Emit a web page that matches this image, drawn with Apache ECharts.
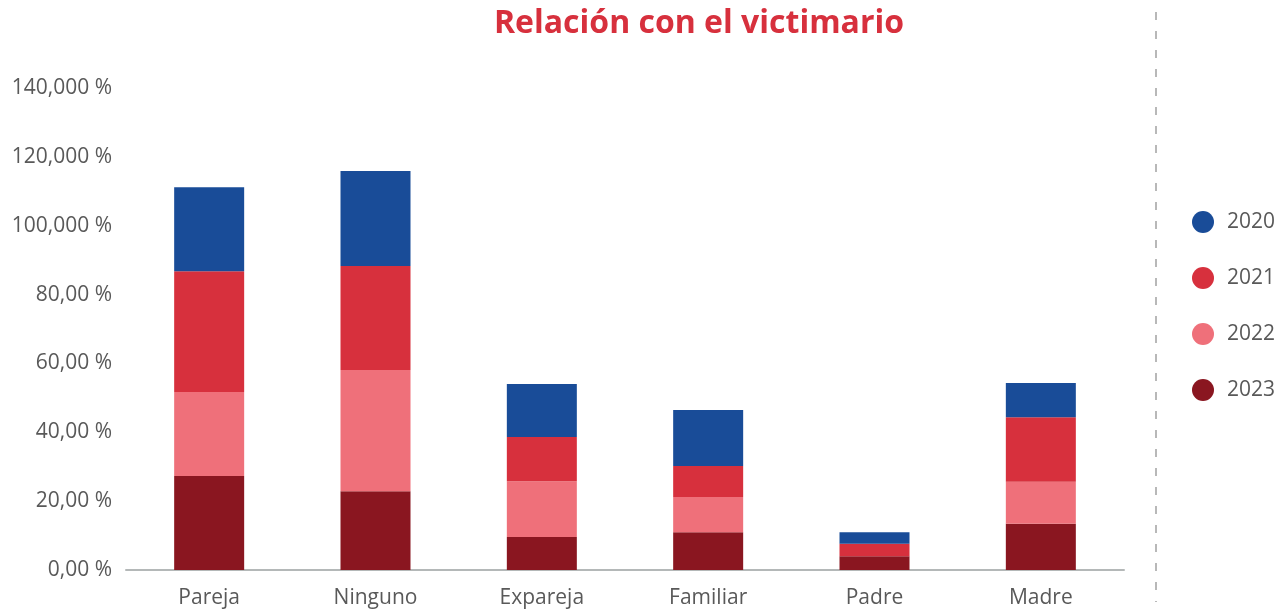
<html>
  <head>
    <title>Relación con el victimario</title>
    <script src="https://cdn.jsdelivr.net/npm/echarts@6.0.0/dist/echarts.min.js"></script>
    <style>
      body {
        margin: 0px;
        background-color: white;
      }
      #chart {
        width: 1286px;
        height: 609px;
      }
    </style>
  </head>
  <body>
    <div id="chart"></div>
  </body>
</html>
<script type="text/javascript">
  // categories and values
  const categories = ['Pareja', 'Ninguno', 'Expareja', 'Familiar', 'Padre', 'Madre']
  const years = ['2020', '2021', '2022', '2023']
  const v2023 = [27.3, 22.9, 9.6, 11.0, 4.0, 13.4]
  const v2022 = [24.4, 35.2, 16.2, 10.2, 0, 12.2]
  const v2021 = [35.1, 30.2, 12.8, 9.0, 3.6, 18.8]
  const v2020 = [24.4, 27.6, 15.4, 16.3, 3.4, 9.9]
  const yLabels = ['0,00 %', '20,00 %', '40,00 %', '60,00 %', '80,00 %', '100,000 %', '120,000 %', '140,000 %']

  const colors = {
    '2020': '#194C98',
    '2021': '#D7303D',
    '2022': '#EF707A',
    '2023': '#8A1620'
  }

  const myChart = echarts.init(document.getElementById('chart'), null, { width: 1286, height: 609 })

  // stack from the bottom: 2023 first
  const stackOrder = [['2023', v2023], ['2022', v2022], ['2021', v2021], ['2020', v2020]]

  let option = {
    textStyle: { fontFamily: 'Open Sans' },
    title: {
      text: 'Relación con el victimario',
      left: 694,
      textAlign: 'center',
      top: 3,
      textStyle: { color: '#D7303D', fontSize: 32, fontWeight: 'bold', fontFamily: 'Open Sans' }
    },
    legend: {
      data: years,
      orient: 'vertical',
      left: 1187,
      top: 206,
      icon: 'circle',
      itemWidth: 22,
      itemHeight: 22,
      itemGap: 34,
      textStyle: { color: '#595959', fontSize: 21, fontFamily: 'Open Sans', padding: [0, 0, 0, 8] }
    },
    grid: { left: 126, right: 162, top: 88, bottom: 39 },
    xAxis: {
      type: 'category',
      data: categories,
      axisLine: { lineStyle: { color: '#B4B8B8', width: 2 } },
      axisTick: { show: false },
      axisLabel: { color: '#595959', fontSize: 21, margin: 18, fontFamily: 'Open Sans' }
    },
    yAxis: {
      type: 'value',
      min: 0,
      max: 140,
      interval: 20,
      splitLine: { show: false },
      axisLabel: {
        color: '#595959',
        fontSize: 21,
        margin: 14,
        fontFamily: 'Open Sans',
        formatter: (v) => yLabels[Math.round(v / 20)]
      }
    },
    graphic: [{
      type: 'line',
      shape: { x1: 1156, y1: 12, x2: 1156, y2: 602 },
      style: { stroke: '#B8B8B8', lineWidth: 2, lineDash: [8, 11] }
    }],
    series: stackOrder.map(([name, data]) => ({
      name: name,
      type: 'bar',
      stack: 'total',
      barWidth: 70,
      data: data,
      itemStyle: { color: colors[name] }
    }))
  }

  myChart.setOption(option)
</script>
